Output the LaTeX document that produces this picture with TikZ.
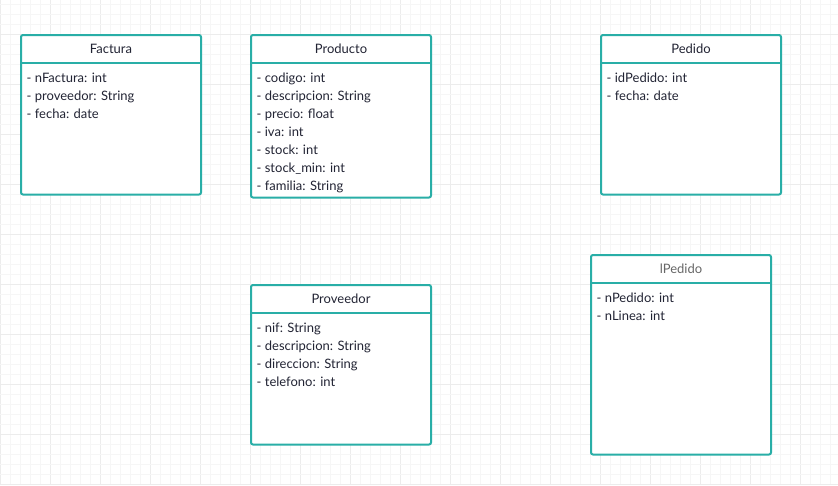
\documentclass[tikz,border=0pt]{standalone}
\usepackage{fontspec}
\setmainfont{Lato}
\definecolor{teal1}{RGB}{41,174,167}
\definecolor{txt}{RGB}{34,36,52}
\definecolor{gmaj}{RGB}{236,236,236}
\definecolor{gmin}{RGB}{246,246,246}
\begin{document}
\begin{tikzpicture}[x=1pt,y=-1pt,
  umlbox/.style={draw=teal1,line width=2pt,rounded corners=2pt,fill=white},
  umltitle/.style={font=\fontsize{13}{15}\selectfont,text=txt,anchor=center},
  umlattr/.style={font=\fontsize{13}{18}\selectfont,text=txt,anchor=north west,align=left,inner sep=0pt},
  divider/.style={draw=teal1,line width=2pt}]
\useasboundingbox (0,0) rectangle (838,485);
\fill[white] (0,0) rectangle (838,485);
% grid
\foreach \k in {0,...,83}{
  \pgfmathtruncatemacro{\m}{mod(\k,5)}
  \ifnum\m=0 \draw[gmaj,line width=1.2pt] (0.5+10*\k,0) -- (0.5+10*\k,485);
  \else \draw[gmin,line width=1pt] (0.5+10*\k,0) -- (0.5+10*\k,485); \fi}
\foreach \k in {0,...,48}{
  \pgfmathtruncatemacro{\m}{mod(\k+2,5)}
  \ifnum\m=0 \draw[gmaj,line width=1.2pt] (0,4.5+10*\k) -- (838,4.5+10*\k);
  \else \draw[gmin,line width=1pt] (0,4.5+10*\k) -- (838,4.5+10*\k); \fi}
% Factura
\draw[umlbox] (21,35) rectangle (201,194.5);
\draw[divider] (21,62.7) -- (201,62.7);
\node[umltitle] (facturaT) at (111,49) {Factura};
\node[umlattr] (facturaA) at (26.5,73) {- nFactura: int\\- proveedor: String\\- fecha: date};
% Producto
\draw[umlbox] (251,35) rectangle (431,197.5);
\draw[divider] (251,63) -- (431,63);
\node[umltitle] (productoT) at (341,49) {Producto};
\node[umlattr] (productoA) at (256.5,73) {- codigo: int\\- descripcion: String\\- precio: float\\- iva: int\\- stock: int\\- stock\_min: int\\- familia: String};
% Pedido
\draw[umlbox] (601,35) rectangle (781,194.5);
\draw[divider] (601,63) -- (781,63);
\node[umltitle] (pedidoT) at (691,49) {Pedido};
\node[umlattr] (pedidoA) at (606.5,73) {- idPedido: int\\- fecha: date};
% Proveedor
\draw[umlbox] (251,285) rectangle (431,444.5);
\draw[divider] (251,313) -- (431,313);
\node[umltitle] (proveedorT) at (341,299) {Proveedor};
\node[umlattr] (proveedorA) at (256.5,323) {- nif: String\\- descripcion: String\\- direccion: String\\- telefono: int};
% lPedido
\draw[umlbox] (591,255) rectangle (771,454.5);
\draw[divider] (591,282.7) -- (771,282.7);
\node[umltitle,text=black!60] (lpedidoT) at (681,269) {lPedido};
\node[umlattr] (lpedidoA) at (596.5,293) {- nPedido: int\\- nLinea: int};
\end{tikzpicture}
\end{document}
